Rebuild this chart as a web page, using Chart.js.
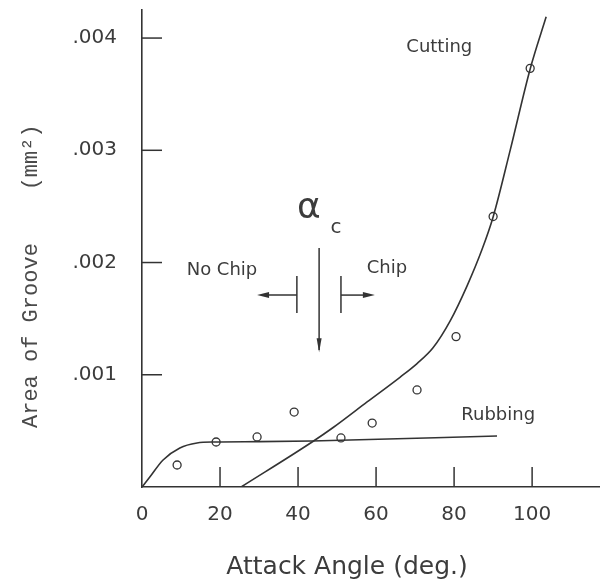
<!DOCTYPE html>
<html>
<head>
<meta charset="utf-8">
<script src="https://cdn.jsdelivr.net/npm/chart.js@4/dist/chart.umd.min.js"></script>
<style>
  html, body { margin: 0; padding: 0; background: #ffffff; }
  #wrap { width: 600px; height: 586px; position: relative; }
</style>
</head>
<body>
<div id="wrap"><canvas id="c" width="600" height="586"></canvas></div>
<script>
// ---- data ----
const angleDeg   = [9, 19, 29.5, 39, 51, 59, 70.5, 80.5, 90, 99.5];
const grooveArea = [0.000196, 0.000401, 0.000446, 0.000668, 0.000437, 0.000570, 0.000865, 0.00134, 0.00241, 0.00373];

const rubbingX = [0, 2, 5.4, 9.7, 14.1, 18.7, 30, 43.6, 91.0];
const rubbingY = [0, 0.000089, 0.000241, 0.000348, 0.000392, 0.000401, 0.000404, 0.000410, 0.000455];

const cuttingX = [25.4, 43.6, 49.0, 57.7, 66.2, 70.5, 74.6, 79.0, 83.3, 87.2, 90.0, 94.4, 99.5, 103.6];
const cuttingY = [0, 0.000401, 0.00053, 0.000758, 0.00098, 0.00110, 0.00124, 0.00148, 0.00179, 0.00212, 0.002406, 0.003004, 0.003725, 0.004189];

const xTickValues = [20, 40, 60, 80, 100];
const yTickValues = [0.001, 0.002, 0.003, 0.004];

const criticalAngle = 45.4;

// ---- styles ----
const INK = '#333333';
const TXT = '#3c3c3c';

const toXY = (xs, ys) => xs.map((v, i) => ({ x: v, y: ys[i] }));

function line(ctx, x1, y1, x2, y2) {
  ctx.beginPath(); ctx.moveTo(x1, y1); ctx.lineTo(x2, y2); ctx.stroke();
}
function arrowHead(ctx, x, y, dx, dy, len, half) {
  const bx = x - dx * len, by = y - dy * len;
  const nx = -dy, ny = dx;
  ctx.beginPath();
  ctx.moveTo(x, y);
  ctx.lineTo(bx + nx * half, by + ny * half);
  ctx.lineTo(bx - nx * half, by - ny * half);
  ctx.closePath();
  ctx.fill();
}

const overlay = {
  id: 'overlay',
  afterDatasetsDraw(chart) {
    const { ctx, chartArea: a, scales: { x, y } } = chart;
    const X = v => x.getPixelForValue(v);
    const Y = v => y.getPixelForValue(v);
    ctx.save();
    ctx.strokeStyle = INK; ctx.fillStyle = INK; ctx.lineWidth = 1.5;

    // inward tick marks
    xTickValues.forEach(v => line(ctx, X(v), a.bottom, X(v), a.bottom - 20));
    yTickValues.forEach(v => line(ctx, a.left, Y(v), a.left + 20, Y(v)));

    // critical-angle arrow
    line(ctx, X(criticalAngle), Y(0.00213), X(criticalAngle), Y(0.00122));
    arrowHead(ctx, X(criticalAngle), Y(0.00120), 0, 1, 14, 2.5);

    // No Chip / Chip brackets
    line(ctx, X(39.7), Y(0.00188), X(39.7), Y(0.00155));
    line(ctx, X(39.7), Y(0.00171), X(31.5), Y(0.00171));
    arrowHead(ctx, X(29.5), Y(0.00171), -1, 0, 12, 3);
    line(ctx, X(51.0), Y(0.00188), X(51.0), Y(0.00155));
    line(ctx, X(51.0), Y(0.00171), X(57.7), Y(0.00171));
    arrowHead(ctx, X(59.7), Y(0.00171), 1, 0, 12, 3);

    // annotation texts
    ctx.fillStyle = TXT;
    ctx.textAlign = 'center'; ctx.textBaseline = 'middle';
    ctx.font = '18px "DejaVu Sans"';
    ctx.fillText('Cutting', X(76.2), Y(0.00392));
    ctx.fillText('Rubbing', X(91.3), Y(0.000642));
    ctx.fillText('No Chip', X(20.5), Y(0.001934));
    ctx.fillText('Chip', X(62.8), Y(0.001952));
    ctx.font = '36px "DejaVu Sans"';
    ctx.fillText('α', X(42.8), Y(0.002478));
    ctx.font = '20px "DejaVu Sans"';
    ctx.fillText('c', X(49.7), Y(0.00231));

    // axis titles
    ctx.font = '25px "DejaVu Sans"';
    ctx.fillText('Attack Angle (deg.)', a.left + 205, 567);
    ctx.save();
    ctx.translate(31, 428);
    ctx.rotate(-Math.PI / 2);
    ctx.textAlign = 'left';
    ctx.font = '22px "Liberation Mono"';
    ctx.fillStyle = '#4a4a4a';
    ctx.fillText('Area of Groove    (mm²)', 0, 0);
    ctx.restore();

    ctx.restore();
  }
};

new Chart(document.getElementById('c'), {
  type: 'scatter',
  data: {
    datasets: [
      {
        label: 'Rubbing',
        data: toXY(rubbingX, rubbingY),
        showLine: true,
        borderColor: INK,
        borderWidth: 1.6,
        pointRadius: 0,
        cubicInterpolationMode: 'monotone',
        fill: false
      },
      {
        label: 'Cutting',
        data: toXY(cuttingX, cuttingY),
        showLine: true,
        borderColor: INK,
        borderWidth: 1.6,
        pointRadius: 0,
        cubicInterpolationMode: 'monotone',
        fill: false
      },
      {
        label: 'Measured',
        data: toXY(angleDeg, grooveArea),
        showLine: false,
        pointStyle: 'circle',
        pointRadius: 4,
        pointBorderWidth: 1.3,
        pointBorderColor: INK,
        pointBackgroundColor: 'rgba(255,255,255,0)'
      }
    ]
  },
  options: {
    responsive: false,
    animation: false,
    devicePixelRatio: 1,
    layout: { autoPadding: false, padding: { top: 10, right: 0, left: 0, bottom: 0 } },
    plugins: { legend: { display: false }, tooltip: { enabled: false } },
    scales: {
      x: {
        type: 'linear',
        min: 0,
        max: 117.4,
        afterFit: s => { s.height = 99; s.paddingLeft = 0; s.paddingRight = 0; },
        grid: { display: false, drawTicks: false },
        border: { display: true, color: INK, width: 1.6 },
        ticks: {
          stepSize: 20,
          includeBounds: false,
          padding: 16,
          maxRotation: 0,
          color: TXT,
          font: { family: 'DejaVu Sans', size: 20 }
        }
      },
      y: {
        type: 'linear',
        min: 0,
        max: 0.00425,
        afterFit: s => { s.width = 142; s.paddingTop = 0; s.paddingBottom = 0; },
        grid: { display: false, drawTicks: false },
        border: { display: true, color: INK, width: 1.6 },
        ticks: {
          stepSize: 0.001,
          includeBounds: false,
          padding: 25,
          color: TXT,
          font: { family: 'DejaVu Sans', size: 20 },
          callback: v => (v === 0 ? '' : v.toFixed(3).replace(/^0/, ''))
        }
      }
    }
  },
  plugins: [overlay]
});
</script>
</body>
</html>
